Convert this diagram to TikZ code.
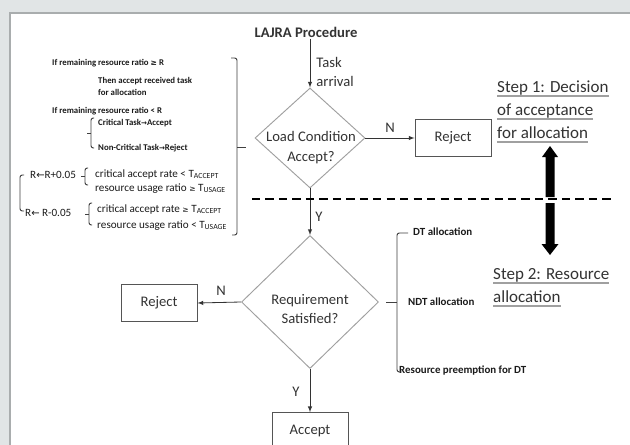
\documentclass[tikz,border=0pt]{standalone}
\usepackage{fontspec}
\setmainfont{Carlito}
\newfontfamily\symf{DejaVu Sans}
\usepackage{xcolor}
\usetikzlibrary{shapes.geometric}
\usetikzlibrary{arrows}

\definecolor{panelgray}{HTML}{E1E5E6}
\definecolor{edgegray}{HTML}{A9ADAE}
\definecolor{textgray}{HTML}{333333}
\definecolor{linegray}{HTML}{A0A0A0}
\definecolor{boxgray}{HTML}{555555}
\definecolor{notetext}{HTML}{1A1A1A}

\newcommand{\flowfont}{\fontsize{12.5}{17}\selectfont}
\newcommand{\titlefont}{\fontsize{12.5}{15}\selectfont\bfseries}
\newcommand{\stepfont}{\fontsize{14.5}{18}\selectfont}
\newcommand{\notefont}{\fontsize{7.5}{9}\selectfont\bfseries}
\newcommand{\rulefont}{\fontsize{9.5}{11}\selectfont}
\newcommand{\allocfont}{\fontsize{9.3}{11}\selectfont\bfseries}
\newcommand{\goesto}{{\symf\fontsize{6}{7}\selectfont →}}
\newcommand{\getsfrom}{{\symf\fontsize{8.5}{9}\selectfont ←}}
\newcommand{\geqsym}{{\symf\fontsize{6.5}{7}\selectfont ≥}}

\begin{document}
\begin{tikzpicture}[x=0.03cm, y=-0.03cm,
 decision/.style = {diamond, draw=linegray, line width=0.8pt, inner sep=0pt},
 block/.style = {
    rectangle,
    draw=boxgray, line width=0.8pt,
    minimum width=2.28cm, minimum height=1.1cm,
    text=textgray, font=\flowfont},
 tag/.style = {text=textgray, font=\flowfont, inner sep=1pt},
 flow/.style = {-latex, draw=black!80, line width=0.7pt},
 notebold/.style = {anchor=base west, inner sep=0pt, font=\notefont, text=notetext},
 notetxt/.style = {anchor=base west, inner sep=0pt, font=\rulefont, text=notetext},
 alloc/.style = {anchor=base west, inner sep=0pt, font=\allocfont, text=notetext},
 brace/.style = {draw=black!75, line width=0.8pt, rounded corners=2pt},
 steptxt/.style = {anchor=base west, inner sep=0pt, font=\stepfont, text=textgray},
 stepline/.style = {draw=linegray, line width=1.2pt}
 ]
\useasboundingbox (0,0) rectangle (630,445);
\clip (0,0) rectangle (630,445);
\fill[panelgray] (0,0) rectangle (630,445);
\filldraw[fill=white, draw=edgegray, line width=1pt] (10,13) rectangle (640,455);

\node(title)[tag, font=\titlefont] at (306,32) {LAJRA Procedure};
\node(load)[decision, minimum width=3.3cm, minimum height=3cm] at (310,138) {};
\node(loadtxt)[tag, align=center] at (311,148) {Load Condition\\Accept?};
\node(arrival)[tag, anchor=west, align=left] at (315,72) {Task\\arrival};
\node(rejecta)[block] at (453,138) {Reject};
\node(req)[decision, minimum width=4.11cm, minimum height=3.99cm] at (310,302) {};
\node(reqtxt)[tag, align=center] at (310,309) {Requirement\\Satisfied?};
\node(rejectb)[block] at (159,303) {Reject};
\node(accept)[block] at (310,431) {Accept};
\node(na)[tag] at (390,128) {N};
\node(ya)[tag] at (319,217) {Y};
\node(nb)[tag] at (221,291) {N};
\node(yb)[tag] at (296,392) {Y};

\draw[flow] (title.south -| load.north) -- (load.north);
\draw[flow] (load.east) -- (rejecta.west);
\draw[flow] (load.south) -- (req.north);
\draw[flow] (req.west) -- (rejectb.east);
\draw[flow] (req.south) -- (accept.north);

\draw[black, line width=2.2pt, dash pattern=on 7pt off 4.5pt] (252,199) -- (611,199);
\fill[black] (550,146) -- (558,157) -- (554.5,157) -- (554.5,197) -- (545.5,197) -- (545.5,157) -- (542,157) -- cycle;
\fill[black] (545.5,203) -- (554.5,203) -- (554.5,244) -- (558.5,244) -- (550,255) -- (541.5,244) -- (545.5,244) -- cycle;

\node(stepa)[steptxt] at (497,92) {Step 1: Decision};
\node(stepb)[steptxt] at (497,115) {of acceptance};
\node(stepc)[steptxt] at (497,138) {for allocation};
\node(stepd)[steptxt] at (493,279) {Step 2: Resource};
\node(stepe)[steptxt] at (493,302) {allocation};
\foreach \s in {stepa,stepb,stepc,stepd,stepe}
  \draw[stepline] ([yshift=-3.5pt]\s.base west) -- ([yshift=-3.5pt]\s.base east);

\node(ifhigh)[notebold] at (52,65) {If remaining resource ratio \geqsym{} R};
\node(thenacc)[notebold] at (98,83) {Then accept received task};
\node(foralloc)[notebold] at (98,95) {for allocation};
\node(iflow)[notebold] at (52,113) {If remaining resource ratio < R};
\node(crit)[notebold] at (98,125) {Critical Task\goesto Accept};
\node(noncrit)[notebold] at (98,150) {Non-Critical Task\goesto Reject};
\draw[brace] (94,118) -- (91,118) -- (91,148) -- (94,148);
\draw[brace] (91,133) -- (87,133);

\node(rup)[notetxt] at (30,178) {R\getsfrom R+0.05};
\node(rupa)[notetxt] at (95,177) {critical accept rate < T\textsubscript{ACCEPT}};
\node(rupb)[notetxt] at (95,191) {resource usage ratio \geqsym{} T\textsubscript{USAGE}};
\node(rdown)[notetxt] at (25,216) {R\getsfrom{} R-0.05};
\node(rdowna)[notetxt] at (97,212) {critical accept rate \geqsym{} T\textsubscript{ACCEPT}};
\node(rdownb)[notetxt] at (97,228) {resource usage ratio < T\textsubscript{USAGE}};
\draw[brace] (88,168) -- (85,168) -- (85,185) -- (88,185);
\draw[brace] (85,176) -- (81,176);
\draw[brace] (92,203) -- (89,203) -- (89,225) -- (92,225);
\draw[brace] (89,214) -- (85,214);
\draw[brace] (24,175) -- (20,175) -- (20,211) -- (24,211);
\draw[brace] (231,58) -- (237,58) -- (237,235) -- (232,235);
\draw[brace] (237,147) -- (246,147);

\node(dt)[alloc] at (413,235) {DT allocation};
\node(ndt)[alloc] at (408,305) {NDT allocation};
\node(preempt)[alloc] at (399,373) {Resource preemption for DT};
\draw[brace] (408,233) -- (397,233) -- (397,372) -- (402,372);
\draw[brace] (386,302) -- (397,302);
\end{tikzpicture}
\end{document}
